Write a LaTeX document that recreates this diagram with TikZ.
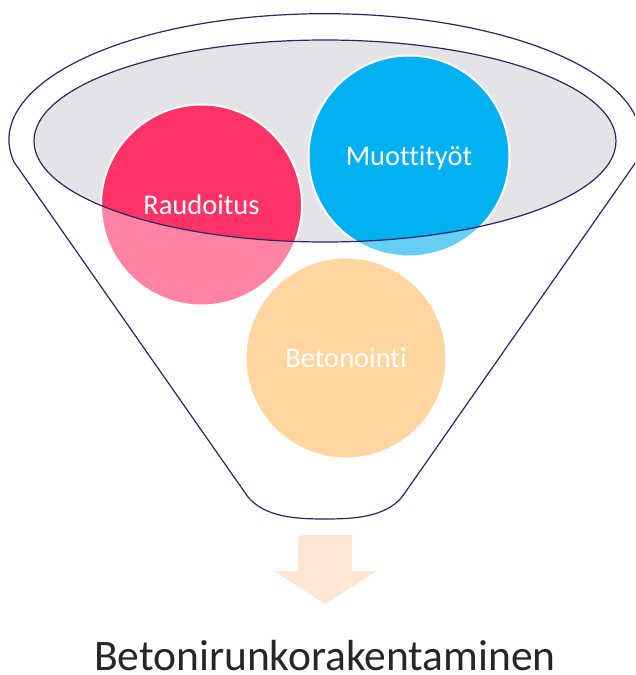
\documentclass[tikz,border=0pt]{standalone}
\usepackage{fontspec}
\setmainfont{Carlito}[Ligatures=CommonOff]
\definecolor{rimgrey}{RGB}{228,228,232}
\definecolor{outline}{RGB}{40,38,100}
\definecolor{pinkc}{RGB}{255,51,102}
\definecolor{bluec}{RGB}{0,176,240}
\definecolor{orangec}{RGB}{255,185,97}
\definecolor{arrowc}{RGB}{253,230,212}
\tikzset{
  ball/.style={circle, draw=white, line width=2pt, minimum size=201pt, inner sep=0pt,
    text=white, font=\fontsize{28.5}{30}\selectfont, text height=18pt, text depth=0pt},
  funnelline/.style={draw=outline, line width=1.2pt},
}
\begin{document}
\begin{tikzpicture}[x=1pt,y=-1pt]
\useasboundingbox (0,0) rectangle (635,675);
\clip (0,0) rectangle (635,675);
% inner rim
\fill[rimgrey] (325,141) ellipse [x radius=291, y radius=101];
% balls
\node[ball, fill=pinkc] (raud) at (201.5,205) {Raudoitus};
\node[ball, fill=bluec] (muot) at (409,156) {Muottityöt};
\node[ball, fill=orangec] (beto) at (346,358) {Betonointi};
% translucent front of funnel
\fill[white, opacity=0.4, even odd rule]
  (14,162) arc[start angle=169.8, end angle=370.2, x radius=316, y radius=126]
  -- (402,497) .. controls (385,517) and (355,519) .. (325,519)
  .. controls (295,519) and (265,517) .. (248,497) -- cycle
  (325,141) ellipse [x radius=291, y radius=101];
% outlines
\draw[funnelline]
  (14,162) arc[start angle=169.8, end angle=370.2, x radius=316, y radius=126]
  -- (402,497) .. controls (385,517) and (355,519) .. (325,519)
  .. controls (295,519) and (265,517) .. (248,497) -- cycle;
\draw[funnelline] (325,141) ellipse [x radius=291, y radius=101];
% arrow
\fill[arrowc] (298,535) -- (352,535) -- (352,571) -- (377,571) -- (325,604)
  -- (274,571) -- (298,571) -- cycle;
% result text
\node[anchor=base, inner sep=0pt, text=black!85, font=\fontsize{43.5}{46}\selectfont] (result) at (325,670) {Betonirunkorakentaminen};
\end{tikzpicture}
\end{document}
